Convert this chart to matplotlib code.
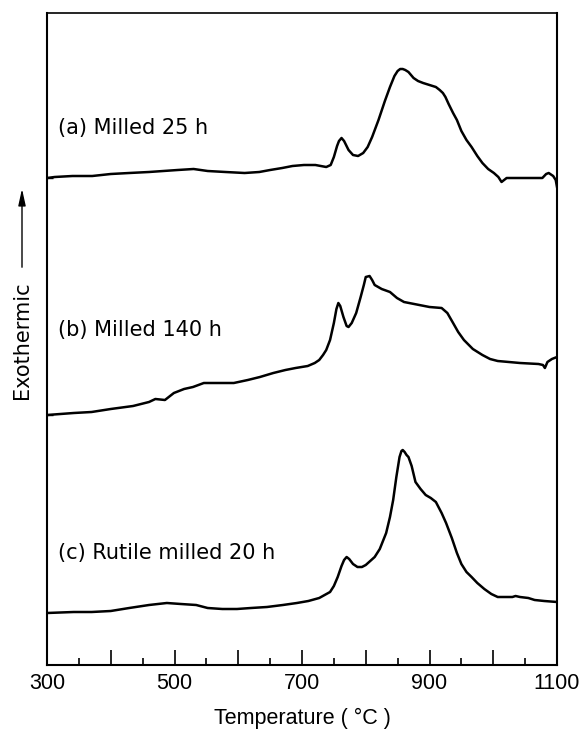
import matplotlib
matplotlib.use("Agg")
import matplotlib.pyplot as plt
from matplotlib.ticker import FixedLocator, FuncFormatter

plt.rcParams['font.family'] = ['Liberation Sans', 'DejaVu Sans']

# DTA traces (temperature in deg C, signal in arbitrary units)
temp_a = [300, 312, 340, 371, 400, 429, 460, 505, 530, 552, 580, 610, 633, 650, 669, 685,
          703, 721, 738, 745, 750, 755, 758, 762, 766, 773, 780, 788, 796, 803, 810, 820,
          830, 838, 845, 850, 854, 858, 862, 867, 875, 882, 890, 900, 910, 916, 921, 925,
          930, 937, 943, 950, 958, 966, 975, 983, 992, 1001, 1008, 1013, 1017, 1021, 1040,
          1060, 1077, 1083, 1087, 1094, 1098, 1100]
sig_a = [48.7, 48.8, 48.9, 48.9, 49.1, 49.2, 49.3, 49.5, 49.6, 49.4, 49.3, 49.2, 49.3, 49.5,
         49.7, 49.9, 50.0, 50.0, 49.8, 50.0, 50.8, 51.9, 52.4, 52.7, 52.4, 51.5, 51.0, 50.9,
         51.2, 51.8, 52.8, 54.5, 56.4, 57.8, 58.9, 59.4, 59.6, 59.6, 59.5, 59.3, 58.7, 58.4,
         58.2, 58.0, 57.8, 57.5, 57.2, 56.8, 56.1, 55.2, 54.5, 53.4, 52.5, 51.8, 50.9, 50.2,
         49.6, 49.2, 48.8, 48.3, 48.5, 48.7, 48.7, 48.7, 48.7, 49.1, 49.2, 48.9, 48.5, 47.8]

temp_b = [300, 342, 370, 400, 435, 460, 470, 485, 499, 515, 529, 546, 570, 593, 615, 634,
          655, 674, 690, 709, 720, 727, 733, 738, 744, 750, 754, 757, 760, 765, 770, 773,
          778, 785, 792, 797, 800, 806, 810, 814, 825, 838, 849, 860, 884, 900, 919, 928,
          937, 945, 954, 968, 983, 995, 1007, 1042, 1071, 1078, 1081, 1085, 1092, 1100]
sig_b = [25.0, 25.2, 25.3, 25.6, 25.9, 26.3, 26.6, 26.5, 27.2, 27.6, 27.8, 28.2, 28.2, 28.2,
         28.5, 28.8, 29.2, 29.5, 29.7, 29.9, 30.2, 30.5, 31.0, 31.5, 32.5, 34.2, 35.6, 36.2,
         35.9, 34.8, 33.9, 33.8, 34.2, 35.2, 36.8, 38.0, 38.8, 38.9, 38.5, 38.0, 37.6, 37.3,
         36.7, 36.3, 36.0, 35.8, 35.7, 35.2, 34.2, 33.3, 32.5, 31.6, 31.0, 30.6, 30.4, 30.2,
         30.1, 30.0, 29.7, 30.3, 30.6, 30.8]

temp_c = [300, 342, 370, 400, 429, 460, 488, 510, 534, 552, 575, 598, 620, 645, 670, 692,
          710, 727, 744, 750, 756, 762, 766, 770, 774, 780, 787, 794, 800, 807, 814, 822,
          832, 838, 843, 848, 853, 856, 858, 861, 864, 867, 872, 878, 886, 894, 902, 910,
          919, 926, 935, 943, 950, 958, 966, 975, 986, 997, 1007, 1020, 1030, 1035, 1042,
          1055, 1065, 1080, 1100]
sig_c = [5.2, 5.3, 5.3, 5.4, 5.7, 6.0, 6.2, 6.1, 6.0, 5.7, 5.6, 5.6, 5.7, 5.8, 6.0, 6.2,
         6.4, 6.7, 7.3, 7.9, 8.8, 9.9, 10.5, 10.8, 10.6, 10.1, 9.8, 9.8, 10.0, 10.4, 10.8,
         11.6, 13.2, 14.8, 16.5, 18.8, 20.8, 21.4, 21.5, 21.3, 21.0, 20.8, 19.9, 18.3, 17.6,
         17.0, 16.7, 16.3, 15.2, 14.2, 12.7, 11.2, 10.1, 9.3, 8.8, 8.2, 7.6, 7.1, 6.8, 6.8,
         6.8, 6.9, 6.8, 6.7, 6.5, 6.4, 6.3]

labels = ["(a) Milled 25 h", "(b) Milled 140 h", "(c) Rutile milled 20 h"]
label_pos_y = [53.7, 33.5, 11.2]

x_major = [300, 400, 500, 600, 700, 800, 900, 1000, 1100]
x_labelled = [300, 500, 700, 900, 1100]
x_minor = [350, 450, 550, 650, 750, 850, 950, 1050]

W, H = 581, 729
fig = plt.figure(figsize=(W / 100, H / 100), dpi=100)
ax = fig.add_axes([47 / W, (H - 665) / H, 510 / W, 652 / H])

for t, s in [(temp_a, sig_a), (temp_b, sig_b), (temp_c, sig_c)]:
    ax.plot(t, s, color='black', lw=1.8, solid_joinstyle='round')

for lab, yy in zip(labels, label_pos_y):
    ax.text(318, yy, lab, fontsize=15, va='center', ha='left', family='DejaVu Sans')

ax.set_xlim(300, 1100)
ax.set_ylim(0, 65.2)

ax.xaxis.set_major_locator(FixedLocator(x_major))
ax.xaxis.set_minor_locator(FixedLocator(x_minor))
ax.xaxis.set_major_formatter(FuncFormatter(lambda v, p: f"{int(v)}" if int(v) in x_labelled else ""))
ax.tick_params(axis='x', which='major', direction='in', length=11, width=1.2, labelsize=15.5, pad=6)
ax.tick_params(axis='x', which='minor', direction='in', length=5, width=1.2)
ax.set_yticks([sig_a[0], sig_b[0]])
ax.set_yticklabels([])
ax.tick_params(axis='y', direction='in', length=4, width=1.0)
ax.tick_params(top=False, right=False)

for sp in ax.spines.values():
    sp.set_linewidth(1.5)
ax.spines['top'].set_linewidth(1.2)

ax.set_xlabel("Temperature ( °C )", fontsize=15.5, labelpad=10)

fig.text(22 / W, 1 - 340 / H, "Exothermic", rotation=90, fontsize=15, ha='center', va='center',
         family='DejaVu Sans')
ax.annotate("", xy=(22, H - 186), xytext=(22, H - 270), xycoords='figure pixels',
            textcoords='figure pixels',
            arrowprops=dict(arrowstyle='-|>,head_length=1.0,head_width=0.22', color='black', lw=1.0))

fig.savefig("out.png", dpi=100)
